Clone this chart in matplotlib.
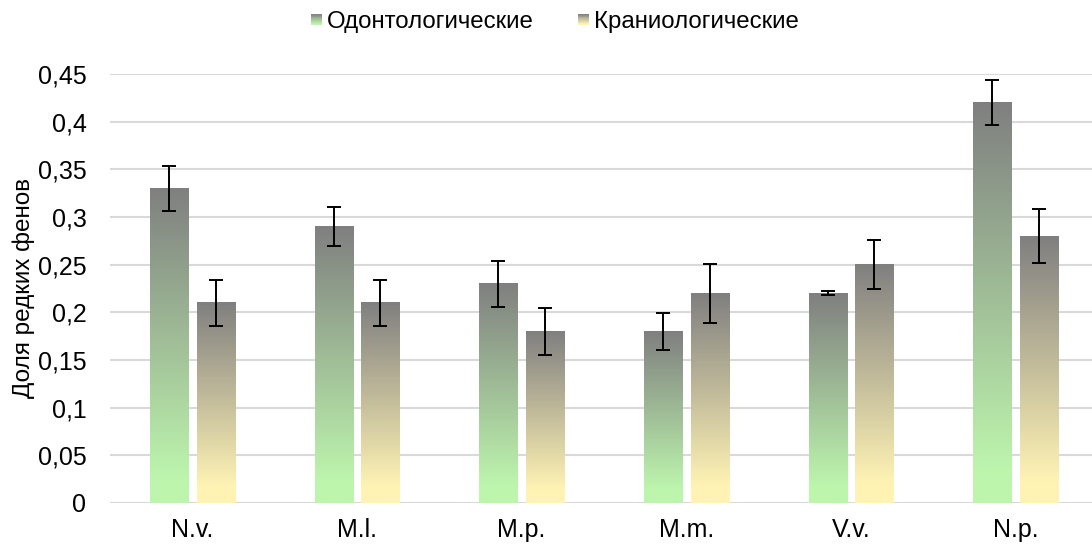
import numpy as np
import matplotlib
matplotlib.use("Agg")
import matplotlib.pyplot as plt
from matplotlib.patches import Rectangle
from matplotlib.legend_handler import HandlerBase
from matplotlib.colors import LinearSegmentedColormap

plt.rcParams['font.family'] = ['Liberation Sans', 'DejaVu Sans']

categories = ["N.v.", "M.l.", "M.p.", "M.m.", "V.v.", "N.p."]
odonto = [0.33, 0.29, 0.23, 0.18, 0.22, 0.42]
odonto_err = [0.024, 0.020, 0.024, 0.019, 0.002, 0.024]
cranio = [0.21, 0.21, 0.18, 0.22, 0.25, 0.28]
cranio_err = [0.024, 0.024, 0.025, 0.031, 0.026, 0.028]
series_names = ["Одонтологические", "Краниологические"]
yticks = [0, 0.05, 0.1, 0.15, 0.2, 0.25, 0.3, 0.35, 0.4, 0.45]

grey = (0.5, 0.5, 0.5)
green_bottom = (189/255, 245/255, 173/255)
yellow_bottom = (255/255, 243/255, 180/255)
cmap_g = LinearSegmentedColormap.from_list("g", [(0, green_bottom), (0.08, green_bottom), (1, grey)])
cmap_y = LinearSegmentedColormap.from_list("y", [(0, yellow_bottom), (0.08, yellow_bottom), (1, grey)])

fig = plt.figure(figsize=(10.92, 5.44), dpi=100)
ax = fig.add_axes([110/1092, 41/544, (1098-110)/1092, (503-74)/544])

x = np.arange(len(categories))
w = 0.232
off = 0.142
grad = np.linspace(0, 1, 256).reshape(-1, 1)

def grad_bars(xs, vals, errs, cmap):
    bars = ax.bar(xs, vals, width=w, color='none', edgecolor='none', zorder=2)
    for b in bars:
        x0 = b.get_x(); h = b.get_height()
        ax.imshow(grad, cmap=cmap, origin='lower', aspect='auto',
                  extent=[x0, x0 + b.get_width(), 0, h], zorder=2,
                  interpolation='bilinear')
    ax.errorbar(xs, vals, yerr=errs, fmt='none', ecolor='black',
                elinewidth=1.4, capsize=5, capthick=1.4, zorder=3)

grad_bars(x - off, odonto, odonto_err, cmap_g)
grad_bars(x + off, cranio, cranio_err, cmap_y)

ax.set_xlim(-0.5, len(categories) - 0.5)
ax.set_ylim(0, 0.45)
ax.set_yticks(yticks)
ax.set_yticklabels([("%g" % t).replace('.', ',') for t in yticks], fontsize=18)
ax.set_xticks(x)
ax.set_xticklabels(categories, fontsize=18)
ax.tick_params(axis='both', length=0)
ax.tick_params(axis='y', pad=17)
ax.tick_params(axis='x', pad=11)
ax.grid(axis='y', color='#d9d9d9', linewidth=1.5, zorder=0)
ax.set_axisbelow(True)
for s in ax.spines.values():
    s.set_visible(False)
ax.set_ylabel("Доля редких фенов", fontsize=17.5, labelpad=2)


class GradHandler(HandlerBase):
    def __init__(self, cmap):
        super().__init__()
        self.cmap = cmap

    def create_artists(self, legend, orig_handle, xdescent, ydescent,
                       width, height, fontsize, trans):
        n = 12
        size = 8.0
        x0 = width - size - xdescent
        y0 = -ydescent + (height - size) / 2
        arts = []
        for i in range(n):
            c = self.cmap(1 - (i + 0.5) / n)
            r = Rectangle((x0, y0 + size - (i + 1) * size / n), size, size / n + 0.1,
                          facecolor=c, edgecolor='none', transform=trans)
            arts.append(r)
        return arts

h1 = Rectangle((0, 0), 1, 1)
h2 = Rectangle((0, 0), 1, 1)
fig.legend([h1, h2], series_names, loc='center', bbox_to_anchor=(555/1092, 1 - 22/544),
           ncol=2, frameon=False, fontsize=17.3, handlelength=0.45, handleheight=0.45,
           handletextpad=0.2, columnspacing=1.85,
           handler_map={h1: GradHandler(cmap_g), h2: GradHandler(cmap_y)})

fig.savefig("out.png", dpi=100)
